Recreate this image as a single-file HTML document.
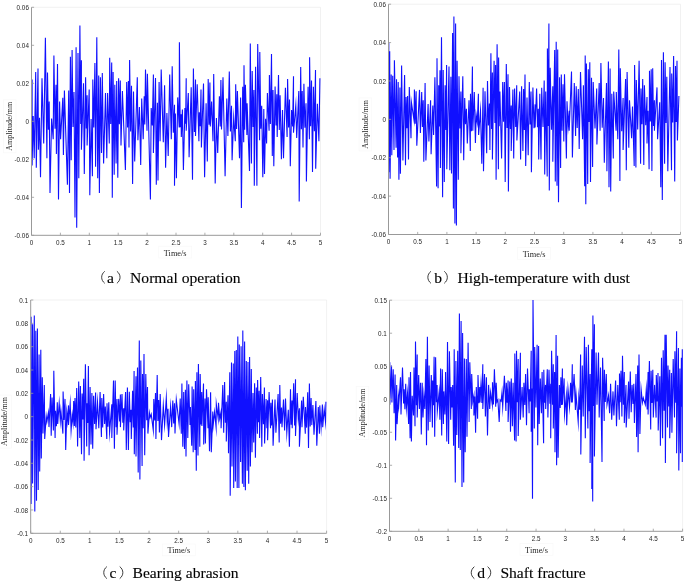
<!DOCTYPE html>
<html><head><meta charset="utf-8"><style>
html,body{margin:0;padding:0;background:#fff;}
body{width:685px;height:582px;overflow:hidden;}
svg{display:block;will-change:transform;filter:blur(0.3px);}
.tk{font-family:"Liberation Sans",sans-serif;font-size:6.6px;fill:#262626;}
.lb{font-family:"Liberation Serif",serif;font-size:8.3px;fill:#262626;}
.yl{font-size:8.0px;}
.cap{font-family:"Liberation Serif",serif;font-size:15.6px;fill:#000;stroke:#000;stroke-width:0.12px;}
</style></head><body>
<svg width="685" height="582" viewBox="0 0 685 582">
<path d="M31.5,7.3H320.5V235.3" fill="none" stroke="#eeeeee" stroke-width="0.8"/>
<polyline points="32.1,79.4 32.1,165.6 33.2,116.1 34.2,158.2 35.7,72.0 36.3,167.7 38.0,68.4 38.4,149.8 39.5,117.8 40.5,177.3 42.0,78.3 43.7,143.4 45.4,37.7 46.9,158.2 47.5,72.4 48.4,129.8 49.2,101.6 50.0,193.1 51.6,118.6 53.2,139.2 53.9,55.5 55.0,128.7 56.0,84.7 56.4,154.0 57.5,63.9 58.5,199.5 59.6,101.6 60.6,139.2 62.8,97.8 63.4,155.0 64.4,90.6 67.4,184.7 68.7,90.6 69.5,193.1 70.4,56.7 71.2,160.3 72.1,50.0 73.0,127.0 74.0,92.0 75.0,217.5 76.1,47.2 76.7,227.7 78.0,52.9 78.8,178.3 79.9,25.4 80.7,123.9 81.4,60.3 81.4,149.8 83.5,83.2 84.3,174.1 85.6,77.3 86.3,128.4 87.1,95.3 87.1,145.5 89.2,89.5 89.8,195.3 91.1,118.9 92.4,176.2 92.8,79.4 93.8,127.6 94.9,63.1 95.6,166.7 96.8,37.3 97.7,178.3 98.7,75.6 99.4,193.1 100.4,77.3 101.5,152.9 102.3,73.0 103.6,163.5 105.5,93.1 106.8,158.2 107.6,93.1 109.3,143.4 109.7,57.8 110.7,124.0 111.7,62.4 112.3,197.8 113.1,72.0 114.2,174.7 114.8,84.7 116.1,163.5 116.7,80.9 117.8,177.7 118.6,78.3 119.4,124.2 120.3,80.4 121.0,145.5 122.4,91.0 125.4,169.9 126.7,82.1 127.6,127.5 128.4,81.1 129.0,147.6 129.6,59.9 130.6,131.6 131.5,85.7 132.6,184.0 133.5,91.4 134.7,161.4 137.3,77.3 137.9,140.2 139.4,106.9 140.7,165.0 141.7,98.6 143.2,139.2 144.2,96.3 144.8,124.5 145.5,69.4 147.0,130.7 147.4,73.7 150.4,199.5 151.2,108.0 152.3,125.5 153.4,74.5 153.4,152.9 155.5,77.9 156.3,184.7 157.4,102.7 158.0,180.4 159.1,82.1 160.1,141.3 161.2,69.4 163.3,142.3 164.6,85.3 165.6,167.7 166.9,113.0 168.2,156.1 169.7,74.5 171.3,139.2 172.2,66.3 173.3,132.8 174.5,104.8 174.5,185.7 175.4,113.5 176.4,178.3 177.7,97.4 179.2,127.5 179.4,42.3 180.2,127.3 181.1,114.3 181.3,137.0 182.4,109.5 183.4,169.9 184.9,108.0 185.6,123.8 186.2,78.3 186.2,130.7 188.3,93.1 189.1,157.2 191.2,87.2 192.5,179.8 193.4,68.4 194.4,131.9 195.5,79.4 195.5,136.0 197.2,84.2 198.9,141.3 199.3,112.2 200.2,126.2 201.0,89.5 201.4,147.6 203.5,83.6 204.6,177.3 206.1,103.3 207.3,161.4 208.2,79.0 209.1,124.7 209.9,82.6 210.3,126.5 211.6,101.6 213.0,141.3 213.7,74.1 215.2,183.6 216.4,118.1 217.7,152.9 219.4,96.3 220.2,126.4 220.9,80.0 221.5,129.6 223.0,77.3 225.1,176.2 226.8,98.4 227.9,136.0 229.3,71.5 230.4,131.5 231.5,105.8 232.1,160.3 233.7,117.5 235.3,141.3 235.7,84.2 236.6,129.1 237.4,91.0 239.5,158.2 240.6,97.4 241.4,208.0 242.7,86.8 243.7,142.3 244.0,65.2 244.7,129.7 245.4,84.7 246.9,134.9 247.1,103.3 249.5,170.9 250.3,43.4 251.4,163.5 252.2,70.9 253.1,127.0 253.9,90.0 254.3,185.7 255.6,66.7 256.9,185.7 257.7,44.0 259.6,140.2 259.8,51.9 260.8,128.8 261.7,105.8 262.8,177.3 263.8,109.0 264.5,174.1 265.6,118.7 266.6,143.4 267.4,93.1 269.1,130.7 269.4,75.1 270.4,123.9 271.5,54.0 272.3,156.1 273.0,90.0 273.8,166.3 275.1,86.4 276.0,125.4 276.8,94.2 277.2,137.0 278.5,75.1 279.3,130.1 280.1,95.3 281.4,159.3 282.5,110.1 283.5,158.2 285.4,87.8 287.1,137.0 287.6,79.0 288.6,127.6 289.5,99.5 290.3,166.3 291.6,110.1 292.6,126.4 293.5,76.2 293.5,132.8 295.8,105.4 296.7,138.1 298.8,91.0 299.2,201.6 300.7,66.9 301.4,129.2 302.2,91.0 303.0,147.6 303.9,83.8 304.9,127.8 306.0,103.3 306.4,181.5 308.1,86.8 309.4,139.2 309.6,57.2 310.6,126.3 311.5,80.4 312.5,172.0 313.4,86.8 314.4,131.2 315.5,69.9 315.7,168.8 317.4,103.7 318.9,141.3 319.9,78.3" fill="none" stroke="#1010ff" stroke-width="1.1" stroke-linejoin="miter" stroke-miterlimit="20"/>
<path d="M31.5,7.3V235.3H320.5" fill="none" stroke="#999999" stroke-width="1"/>
<path d="M31.5,7.30h2.6" stroke="#999999" stroke-width="0.8"/>
<text transform="translate(28.9,9.90) scale(0.96,1)" class="tk" text-anchor="end">0.06</text>
<path d="M31.5,45.30h2.6" stroke="#999999" stroke-width="0.8"/>
<text transform="translate(28.9,47.90) scale(0.96,1)" class="tk" text-anchor="end">0.04</text>
<path d="M31.5,83.30h2.6" stroke="#999999" stroke-width="0.8"/>
<text transform="translate(28.9,85.90) scale(0.96,1)" class="tk" text-anchor="end">0.02</text>
<path d="M31.5,121.30h2.6" stroke="#999999" stroke-width="0.8"/>
<text transform="translate(28.9,123.90) scale(0.96,1)" class="tk" text-anchor="end">0</text>
<path d="M31.5,159.30h2.6" stroke="#999999" stroke-width="0.8"/>
<text transform="translate(28.9,161.90) scale(0.96,1)" class="tk" text-anchor="end">-0.02</text>
<path d="M31.5,197.30h2.6" stroke="#999999" stroke-width="0.8"/>
<text transform="translate(28.9,199.90) scale(0.96,1)" class="tk" text-anchor="end">-0.04</text>
<path d="M31.5,235.30h2.6" stroke="#999999" stroke-width="0.8"/>
<text transform="translate(28.9,237.90) scale(0.96,1)" class="tk" text-anchor="end">-0.06</text>
<path d="M31.50,235.3v-2.6" stroke="#999999" stroke-width="0.8"/>
<text transform="translate(31.50,244.90) scale(0.96,1)" class="tk" text-anchor="middle">0</text>
<path d="M60.40,235.3v-2.6" stroke="#999999" stroke-width="0.8"/>
<text transform="translate(60.40,244.90) scale(0.96,1)" class="tk" text-anchor="middle">0.5</text>
<path d="M89.30,235.3v-2.6" stroke="#999999" stroke-width="0.8"/>
<text transform="translate(89.30,244.90) scale(0.96,1)" class="tk" text-anchor="middle">1</text>
<path d="M118.20,235.3v-2.6" stroke="#999999" stroke-width="0.8"/>
<text transform="translate(118.20,244.90) scale(0.96,1)" class="tk" text-anchor="middle">1.5</text>
<path d="M147.10,235.3v-2.6" stroke="#999999" stroke-width="0.8"/>
<text transform="translate(147.10,244.90) scale(0.96,1)" class="tk" text-anchor="middle">2</text>
<path d="M176.00,235.3v-2.6" stroke="#999999" stroke-width="0.8"/>
<text transform="translate(176.00,244.90) scale(0.96,1)" class="tk" text-anchor="middle">2.5</text>
<path d="M204.90,235.3v-2.6" stroke="#999999" stroke-width="0.8"/>
<text transform="translate(204.90,244.90) scale(0.96,1)" class="tk" text-anchor="middle">3</text>
<path d="M233.80,235.3v-2.6" stroke="#999999" stroke-width="0.8"/>
<text transform="translate(233.80,244.90) scale(0.96,1)" class="tk" text-anchor="middle">3.5</text>
<path d="M262.70,235.3v-2.6" stroke="#999999" stroke-width="0.8"/>
<text transform="translate(262.70,244.90) scale(0.96,1)" class="tk" text-anchor="middle">4</text>
<path d="M291.60,235.3v-2.6" stroke="#999999" stroke-width="0.8"/>
<text transform="translate(291.60,244.90) scale(0.96,1)" class="tk" text-anchor="middle">4.5</text>
<path d="M320.50,235.3v-2.6" stroke="#999999" stroke-width="0.8"/>
<text transform="translate(320.50,244.90) scale(0.96,1)" class="tk" text-anchor="middle">5</text>
<rect x="3.4" y="99.8" width="12.6" height="53" fill="none" stroke="#f9f9f9" stroke-width="0.8"/>
<text class="lb yl" x="0" y="0" text-anchor="middle" transform="translate(11.9,126.3) rotate(-90)">Amplitude/mm</text>
<rect x="158.7" y="246.2" width="33" height="11.8" fill="none" stroke="#f9f9f9" stroke-width="0.8"/>
<text class="lb" x="175.2" y="255.5" text-anchor="middle">Time/s</text>
<path d="M388.5,4.2H680.5V234.5" fill="none" stroke="#eeeeee" stroke-width="0.8"/>
<polyline points="388.8,42.6 388.8,172.3 389.7,51.2 390.1,178.7 391.2,74.6 391.8,155.3 392.7,75.7 394.0,150.0 394.4,60.3 396.1,147.8 396.5,79.3 397.6,157.4 398.2,82.1 398.9,179.8 399.9,87.4 400.4,173.8 401.6,65.4 402.9,160.6 404.6,75.0 405.5,165.3 406.1,97.0 406.9,128.3 407.6,95.9 408.5,159.6 409.3,87.0 411.0,138.2 411.4,102.3 414.0,120.1 414.4,89.5 415.2,123.8 416.1,91.2 416.8,145.7 419.5,89.9 420.4,132.9 421.7,92.1 422.4,127.1 423.2,100.2 423.8,161.7 425.1,83.1 425.9,160.6 428.1,104.0 428.9,141.4 430.6,100.2 431.1,154.2 432.8,105.5 433.6,135.0 434.9,77.2 436.6,186.6 437.0,58.2 438.1,188.3 438.7,85.3 439.4,126.6 440.0,70.3 440.4,168.1 441.5,37.3 442.6,197.3 443.2,69.9 444.3,181.9 445.1,85.3 445.9,130.1 446.6,65.0 446.8,169.2 449.0,66.5 449.8,170.2 450.9,76.7 451.5,173.4 452.6,33.0 453.4,208.6 453.9,16.6 454.9,223.5 455.6,23.4 456.4,225.6 457.1,60.7 458.3,179.8 459.0,76.3 459.9,128.6 460.9,91.6 460.9,153.2 462.8,76.3 463.7,160.2 464.7,98.0 465.5,124.2 466.4,108.7 467.3,143.6 469.0,100.2 470.3,151.0 470.5,93.8 471.4,131.2 472.4,66.5 472.8,130.8 474.3,92.1 475.4,143.1 476.2,115.1 477.3,122.5 478.4,93.8 478.6,135.0 480.5,110.8 481.8,163.8 483.1,87.8 483.5,171.3 485.0,91.2 486.7,153.2 487.5,81.0 488.4,125.5 489.4,103.4 489.9,150.0 490.9,53.3 491.6,128.9 492.4,72.5 492.4,159.6 494.1,60.7 494.9,122.9 495.6,65.0 496.1,179.8 497.1,44.3 498.4,169.2 498.6,57.5 499.2,126.2 499.9,91.6 501.6,158.5 502.7,82.1 503.5,121.7 504.4,82.1 505.2,181.9 506.3,63.9 507.1,128.0 508.0,74.2 508.4,191.5 509.5,87.0 510.4,129.0 511.2,105.5 511.2,151.0 512.9,89.5 513.7,158.5 514.6,88.4 515.7,127.1 516.7,85.3 516.9,140.4 519.7,91.6 520.6,159.6 521.6,86.3 522.9,151.0 523.6,89.1 524.3,130.1 525.0,74.6 525.7,166.0 527.0,97.6 528.2,155.3 529.3,82.1 530.1,124.5 531.0,91.6 531.4,172.3 532.9,87.4 534.0,128.3 535.1,104.4 535.1,127.6 536.6,88.4 537.5,127.3 538.3,108.7 538.7,159.6 539.8,93.8 541.0,159.6 541.7,87.8 543.0,127.1 544.2,80.6 544.7,174.5 545.7,91.6 547.2,176.6 547.4,48.6 548.1,125.9 548.9,23.4 549.3,190.5 550.2,67.8 551.5,129.7 552.8,86.3 552.8,161.7 554.7,50.1 555.3,181.5 556.2,41.8 557.0,185.8 557.7,49.4 558.5,202.2 559.6,77.2 560.6,168.1 561.3,74.6 562.1,130.8 563.0,84.2 563.8,141.4 564.5,74.2 566.4,158.5 567.0,101.2 568.1,126.1 569.2,110.8 569.2,130.8 571.5,71.4 572.4,157.4 574.3,83.1 575.6,136.1 576.2,86.3 577.2,128.0 578.3,89.1 579.2,148.9 580.5,72.0 582.6,139.3 583.4,85.3 584.7,186.2 585.2,55.4 585.8,204.3 586.4,63.5 587.7,184.1 588.3,69.3 589.0,122.0 589.8,62.2 590.5,181.9 591.5,77.8 592.6,167.0 593.2,82.1 595.0,128.4 596.7,88.4 596.9,144.6 599.2,83.1 600.1,130.8 600.9,63.1 602.2,127.8 603.5,98.0 604.3,162.8 606.5,83.1 606.9,171.3 608.4,61.4 609.0,187.3 610.1,68.6 610.7,191.5 611.8,93.8 613.3,158.5 613.7,91.6 616.1,130.8 616.3,92.1 617.8,139.3 618.8,49.4 619.9,180.9 620.3,68.2 621.7,131.3 623.1,98.0 623.1,150.0 625.6,78.9 626.3,170.2 627.1,72.0 628.8,147.8 629.5,100.2 631.6,138.2 632.5,106.6 634.2,166.0 634.6,65.0 635.9,167.4 636.3,79.9 637.7,129.6 639.1,60.7 640.6,163.8 641.0,88.4 641.9,124.2 642.7,78.9 643.8,164.9 644.4,85.3 645.7,125.2 647.0,97.0 647.0,143.6 648.0,110.7 649.1,169.2 649.5,70.8 650.4,121.6 651.2,69.3 651.9,170.9 652.7,68.2 653.5,126.0 654.4,100.2 654.4,130.8 657.0,87.4 657.6,139.3 659.7,102.3 660.8,187.3 661.5,60.1 662.3,200.1 663.4,52.2 664.6,163.8 665.1,62.2 666.0,123.0 666.8,76.7 667.8,171.3 670.0,67.1 671.5,170.2 671.7,73.5 672.7,122.5 673.6,56.1 674.7,181.5 675.5,66.1 676.2,121.9 677.0,60.7 677.4,140.4 678.9,95.9" fill="none" stroke="#1010ff" stroke-width="1.1" stroke-linejoin="miter" stroke-miterlimit="20"/>
<path d="M388.5,4.2V234.5H680.5" fill="none" stroke="#999999" stroke-width="1"/>
<path d="M388.5,4.20h2.6" stroke="#999999" stroke-width="0.8"/>
<text transform="translate(385.9,6.80) scale(0.96,1)" class="tk" text-anchor="end">0.06</text>
<path d="M388.5,42.58h2.6" stroke="#999999" stroke-width="0.8"/>
<text transform="translate(385.9,45.18) scale(0.96,1)" class="tk" text-anchor="end">0.04</text>
<path d="M388.5,80.97h2.6" stroke="#999999" stroke-width="0.8"/>
<text transform="translate(385.9,83.57) scale(0.96,1)" class="tk" text-anchor="end">0.02</text>
<path d="M388.5,119.35h2.6" stroke="#999999" stroke-width="0.8"/>
<text transform="translate(385.9,121.95) scale(0.96,1)" class="tk" text-anchor="end">0</text>
<path d="M388.5,157.73h2.6" stroke="#999999" stroke-width="0.8"/>
<text transform="translate(385.9,160.33) scale(0.96,1)" class="tk" text-anchor="end">-0.02</text>
<path d="M388.5,196.12h2.6" stroke="#999999" stroke-width="0.8"/>
<text transform="translate(385.9,198.72) scale(0.96,1)" class="tk" text-anchor="end">-0.04</text>
<path d="M388.5,234.50h2.6" stroke="#999999" stroke-width="0.8"/>
<text transform="translate(385.9,237.10) scale(0.96,1)" class="tk" text-anchor="end">-0.06</text>
<path d="M388.50,234.5v-2.6" stroke="#999999" stroke-width="0.8"/>
<text transform="translate(388.50,244.10) scale(0.96,1)" class="tk" text-anchor="middle">0</text>
<path d="M417.70,234.5v-2.6" stroke="#999999" stroke-width="0.8"/>
<text transform="translate(417.70,244.10) scale(0.96,1)" class="tk" text-anchor="middle">0.5</text>
<path d="M446.90,234.5v-2.6" stroke="#999999" stroke-width="0.8"/>
<text transform="translate(446.90,244.10) scale(0.96,1)" class="tk" text-anchor="middle">1</text>
<path d="M476.10,234.5v-2.6" stroke="#999999" stroke-width="0.8"/>
<text transform="translate(476.10,244.10) scale(0.96,1)" class="tk" text-anchor="middle">1.5</text>
<path d="M505.30,234.5v-2.6" stroke="#999999" stroke-width="0.8"/>
<text transform="translate(505.30,244.10) scale(0.96,1)" class="tk" text-anchor="middle">2</text>
<path d="M534.50,234.5v-2.6" stroke="#999999" stroke-width="0.8"/>
<text transform="translate(534.50,244.10) scale(0.96,1)" class="tk" text-anchor="middle">2.5</text>
<path d="M563.70,234.5v-2.6" stroke="#999999" stroke-width="0.8"/>
<text transform="translate(563.70,244.10) scale(0.96,1)" class="tk" text-anchor="middle">3</text>
<path d="M592.90,234.5v-2.6" stroke="#999999" stroke-width="0.8"/>
<text transform="translate(592.90,244.10) scale(0.96,1)" class="tk" text-anchor="middle">3.5</text>
<path d="M622.10,234.5v-2.6" stroke="#999999" stroke-width="0.8"/>
<text transform="translate(622.10,244.10) scale(0.96,1)" class="tk" text-anchor="middle">4</text>
<path d="M651.30,234.5v-2.6" stroke="#999999" stroke-width="0.8"/>
<text transform="translate(651.30,244.10) scale(0.96,1)" class="tk" text-anchor="middle">4.5</text>
<path d="M680.50,234.5v-2.6" stroke="#999999" stroke-width="0.8"/>
<text transform="translate(680.50,244.10) scale(0.96,1)" class="tk" text-anchor="middle">5</text>
<rect x="359.1" y="97.9" width="12.6" height="53" fill="none" stroke="#f9f9f9" stroke-width="0.8"/>
<text class="lb yl" x="0" y="0" text-anchor="middle" transform="translate(367.6,124.4) rotate(-90)">Amplitude/mm</text>
<rect x="517.6" y="247.5" width="33" height="11.8" fill="none" stroke="#f9f9f9" stroke-width="0.8"/>
<text class="lb" x="534.1" y="256.8" text-anchor="middle">Time/s</text>
<path d="M30.7,300.0H326.6V533.3" fill="none" stroke="#eeeeee" stroke-width="0.8"/>
<polyline points="31.1,316.7 31.1,504.0 32.6,324.3 32.6,483.4 34.3,315.6 34.8,511.5 35.8,330.8 36.5,500.7 37.4,328.6 38.2,489.9 39.1,354.6 39.7,471.5 40.8,349.8 41.3,458.5 42.3,377.3 43.0,433.6 44.3,384.9 44.7,439.0 46.2,416.2 46.9,421.7 48.4,412.6 49.0,427.1 50.6,394.0 51.2,435.8 52.1,397.4 53.4,430.4 53.8,370.8 55.1,438.0 55.5,410.8 56.4,426.3 57.3,402.2 57.7,423.9 59.2,403.3 60.3,420.7 60.9,410.8 62.9,433.6 63.1,391.4 64.0,419.9 65.0,398.9 65.7,449.9 66.8,411.9 67.7,421.1 68.5,405.4 68.5,425.0 70.2,403.3 71.1,430.4 72.2,415.2 73.0,422.6 73.7,401.1 74.4,426.1 75.0,397.9 75.8,427.4 76.7,388.1 77.6,446.6 78.7,381.6 79.8,438.0 80.4,386.0 81.5,454.2 82.1,393.5 82.9,419.5 83.7,378.8 84.1,460.7 85.4,364.3 86.7,446.6 86.9,403.3 87.7,423.1 88.4,366.0 89.1,455.3 90.1,387.0 91.0,444.5 91.9,393.1 92.7,448.8 93.6,395.7 94.6,424.1 95.6,392.4 96.0,429.3 97.5,402.2 98.8,428.2 100.1,392.0 101.4,436.9 101.8,397.9 102.7,427.5 103.6,394.0 104.6,423.9 105.3,406.5 106.8,439.0 107.0,403.3 107.9,426.8 108.8,402.2 109.6,432.6 111.8,404.3 111.8,438.0 113.5,380.5 114.4,448.8 115.2,380.5 116.1,427.3 117.0,398.9 117.0,434.7 118.7,398.9 119.6,421.4 120.4,394.6 120.4,427.1 122.0,394.0 122.8,422.8 123.7,408.2 123.7,430.4 125.6,392.0 126.3,449.9 127.4,387.5 128.4,449.9 129.3,391.8 130.2,422.2 131.0,409.7 131.3,439.0 132.6,390.7 133.3,427.5 134.1,371.0 134.3,454.2 136.0,376.2 136.0,456.4 137.5,367.6 138.2,472.6 139.3,340.5 139.9,479.5 140.8,360.4 142.1,466.1 142.5,374.1 143.2,428.2 144.0,354.1 144.7,455.3 145.8,374.1 146.7,420.2 147.5,387.0 147.9,433.6 149.4,413.0 150.1,417.4 151.2,414.1 153.3,430.4 153.8,398.9 154.7,420.4 155.5,393.1 155.9,439.0 157.2,375.1 157.9,421.0 158.7,400.0 159.4,432.6 160.2,394.0 161.5,440.1 163.3,405.4 164.6,425.0 166.3,397.9 167.2,421.0 168.0,408.7 168.5,436.9 170.6,406.5 171.7,427.1 172.8,400.4 173.7,423.5 174.5,403.3 175.0,433.6 176.3,399.6 179.1,424.0 180.2,398.4 181.3,433.8 181.9,383.6 182.8,446.8 183.7,391.9 184.5,449.0 185.4,389.7 186.0,456.6 186.9,380.6 187.8,438.1 188.7,384.3 190.0,425.1 190.4,407.1 191.7,445.7 192.1,386.5 193.2,452.2 193.7,389.3 195.0,450.1 195.4,381.0 196.3,470.7 196.9,372.3 198.0,455.5 198.4,364.0 199.8,446.8 200.2,374.1 200.9,424.5 201.7,391.9 201.9,426.1 203.5,383.6 203.7,444.6 205.0,398.4 205.4,443.5 206.5,389.3 208.0,428.3 208.2,397.3 209.5,451.2 210.6,392.3 211.3,452.2 212.8,411.5 213.2,425.1 214.6,412.0 216.1,427.2 216.3,403.9 218.2,418.5 218.5,402.8 219.7,418.7 220.9,412.6 221.1,428.3 222.8,384.9 223.7,432.7 224.6,382.1 225.4,422.8 226.3,401.7 226.3,441.4 228.0,395.2 228.5,453.3 229.8,372.3 230.2,495.8 231.5,362.5 232.0,466.4 233.3,363.6 233.7,488.1 234.8,351.0 235.4,481.6 236.3,350.1 237.2,488.1 237.8,336.4 238.9,488.1 239.3,344.5 240.6,462.0 241.1,346.2 242.4,483.8 242.8,330.5 243.9,487.0 244.6,341.4 245.4,490.3 246.3,361.0 247.2,470.7 248.0,361.9 248.7,483.8 249.6,357.1 250.4,466.4 251.3,369.0 252.0,452.2 253.0,393.0 253.7,442.5 254.6,383.2 255.4,457.7 256.3,387.5 257.4,433.8 257.6,379.9 258.4,422.3 259.1,390.8 259.6,438.1 260.7,377.1 261.8,446.8 262.4,394.1 263.4,424.3 264.4,387.5 264.6,443.5 266.1,399.1 266.9,428.2 267.6,400.2 267.6,440.3 269.1,391.9 270.5,428.3 270.9,402.8 271.6,425.6 272.4,399.5 273.1,445.7 275.0,399.5 275.9,432.7 278.1,394.1 279.2,442.5 279.8,384.9 280.6,423.8 281.5,407.6 282.0,427.2 283.5,399.5 284.6,430.5 285.5,398.4 286.8,432.7 288.3,409.7 289.4,446.8 290.5,389.3 291.2,424.8 292.0,400.6 292.2,428.3 293.7,383.2 294.6,425.4 295.5,379.3 295.5,435.9 297.2,393.0 298.3,419.2 299.4,408.2 299.4,446.8 301.6,400.6 302.0,427.2 303.3,396.7 305.3,433.8 305.5,407.1 306.6,427.6 307.7,392.3 308.5,447.9 309.4,383.6 310.2,426.4 311.1,398.0 311.8,425.1 312.9,405.0 314.0,434.8 315.9,401.0 316.8,445.7 318.3,407.1 319.4,433.8 319.8,405.4 321.1,427.4 322.4,404.5 322.7,427.2 324.2,409.3 325.5,421.8 325.9,401.7" fill="none" stroke="#1010ff" stroke-width="1.1" stroke-linejoin="miter" stroke-miterlimit="20"/>
<path d="M30.7,300.0V533.3H326.6" fill="none" stroke="#999999" stroke-width="1"/>
<path d="M30.7,300.00h2.6" stroke="#999999" stroke-width="0.8"/>
<text transform="translate(28.1,302.60) scale(0.96,1)" class="tk" text-anchor="end">0.1</text>
<path d="M30.7,323.33h2.6" stroke="#999999" stroke-width="0.8"/>
<text transform="translate(28.1,325.93) scale(0.96,1)" class="tk" text-anchor="end">0.08</text>
<path d="M30.7,346.66h2.6" stroke="#999999" stroke-width="0.8"/>
<text transform="translate(28.1,349.26) scale(0.96,1)" class="tk" text-anchor="end">0.06</text>
<path d="M30.7,369.99h2.6" stroke="#999999" stroke-width="0.8"/>
<text transform="translate(28.1,372.59) scale(0.96,1)" class="tk" text-anchor="end">0.04</text>
<path d="M30.7,393.32h2.6" stroke="#999999" stroke-width="0.8"/>
<text transform="translate(28.1,395.92) scale(0.96,1)" class="tk" text-anchor="end">0.02</text>
<path d="M30.7,416.65h2.6" stroke="#999999" stroke-width="0.8"/>
<text transform="translate(28.1,419.25) scale(0.96,1)" class="tk" text-anchor="end">0</text>
<path d="M30.7,439.98h2.6" stroke="#999999" stroke-width="0.8"/>
<text transform="translate(28.1,442.58) scale(0.96,1)" class="tk" text-anchor="end">-0.02</text>
<path d="M30.7,463.31h2.6" stroke="#999999" stroke-width="0.8"/>
<text transform="translate(28.1,465.91) scale(0.96,1)" class="tk" text-anchor="end">-0.04</text>
<path d="M30.7,486.64h2.6" stroke="#999999" stroke-width="0.8"/>
<text transform="translate(28.1,489.24) scale(0.96,1)" class="tk" text-anchor="end">-0.06</text>
<path d="M30.7,509.97h2.6" stroke="#999999" stroke-width="0.8"/>
<text transform="translate(28.1,512.57) scale(0.96,1)" class="tk" text-anchor="end">-0.08</text>
<path d="M30.7,533.30h2.6" stroke="#999999" stroke-width="0.8"/>
<text transform="translate(28.1,535.90) scale(0.96,1)" class="tk" text-anchor="end">-0.1</text>
<path d="M30.70,533.3v-2.6" stroke="#999999" stroke-width="0.8"/>
<text transform="translate(30.70,542.90) scale(0.96,1)" class="tk" text-anchor="middle">0</text>
<path d="M60.29,533.3v-2.6" stroke="#999999" stroke-width="0.8"/>
<text transform="translate(60.29,542.90) scale(0.96,1)" class="tk" text-anchor="middle">0.5</text>
<path d="M89.88,533.3v-2.6" stroke="#999999" stroke-width="0.8"/>
<text transform="translate(89.88,542.90) scale(0.96,1)" class="tk" text-anchor="middle">1</text>
<path d="M119.47,533.3v-2.6" stroke="#999999" stroke-width="0.8"/>
<text transform="translate(119.47,542.90) scale(0.96,1)" class="tk" text-anchor="middle">1.5</text>
<path d="M149.06,533.3v-2.6" stroke="#999999" stroke-width="0.8"/>
<text transform="translate(149.06,542.90) scale(0.96,1)" class="tk" text-anchor="middle">2</text>
<path d="M178.65,533.3v-2.6" stroke="#999999" stroke-width="0.8"/>
<text transform="translate(178.65,542.90) scale(0.96,1)" class="tk" text-anchor="middle">2.5</text>
<path d="M208.24,533.3v-2.6" stroke="#999999" stroke-width="0.8"/>
<text transform="translate(208.24,542.90) scale(0.96,1)" class="tk" text-anchor="middle">3</text>
<path d="M237.83,533.3v-2.6" stroke="#999999" stroke-width="0.8"/>
<text transform="translate(237.83,542.90) scale(0.96,1)" class="tk" text-anchor="middle">3.5</text>
<path d="M267.42,533.3v-2.6" stroke="#999999" stroke-width="0.8"/>
<text transform="translate(267.42,542.90) scale(0.96,1)" class="tk" text-anchor="middle">4</text>
<path d="M297.01,533.3v-2.6" stroke="#999999" stroke-width="0.8"/>
<text transform="translate(297.01,542.90) scale(0.96,1)" class="tk" text-anchor="middle">4.5</text>
<path d="M326.60,533.3v-2.6" stroke="#999999" stroke-width="0.8"/>
<text transform="translate(326.60,542.90) scale(0.96,1)" class="tk" text-anchor="middle">5</text>
<rect x="-1.1" y="395.1" width="12.6" height="53" fill="none" stroke="#f9f9f9" stroke-width="0.8"/>
<text class="lb yl" x="0" y="0" text-anchor="middle" transform="translate(7.4,421.6) rotate(-90)">Amplitude/mm</text>
<rect x="162.3" y="544.0" width="33" height="11.8" fill="none" stroke="#f9f9f9" stroke-width="0.8"/>
<text class="lb" x="178.8" y="553.3" text-anchor="middle">Time/s</text>
<path d="M389.5,300.2H682.6V531.3" fill="none" stroke="#eeeeee" stroke-width="0.8"/>
<polyline points="389.8,362.2 389.8,404.7 391.5,365.4 391.9,402.5 393.2,369.3 394.1,413.3 395.1,374.5 395.6,440.4 396.7,384.9 397.1,424.1 398.4,397.9 398.8,404.7 400.5,377.3 401.0,414.4 402.5,367.6 403.6,403.6 404.2,389.2 404.9,409.2 405.7,383.8 406.4,407.9 407.5,393.5 408.6,424.1 409.0,377.3 410.1,438.2 410.5,371.9 411.4,441.4 412.2,395.7 413.5,415.5 414.0,367.6 415.0,426.3 415.5,341.6 416.4,405.2 417.2,354.6 417.2,417.6 418.7,375.1 419.4,409.0 420.5,382.7 421.3,434.5 422.2,382.7 423.0,417.6 423.9,395.7 424.8,409.0 425.9,358.9 426.5,445.3 427.4,336.8 428.2,430.6 429.1,365.4 430.0,422.0 431.3,375.1 432.4,427.4 432.6,380.5 433.4,405.2 434.1,356.7 434.7,436.7 435.6,357.2 436.4,402.3 437.1,384.9 437.3,411.1 439.1,392.4 439.9,419.8 440.6,368.6 441.7,435.6 442.3,369.3 443.4,424.1 443.8,391.4 444.9,414.4 445.6,371.9 446.8,441.4 447.5,342.0 448.6,444.0 449.4,351.3 450.7,419.8 451.2,387.0 451.9,407.6 452.7,384.9 453.6,445.8 454.2,349.2 455.3,482.5 455.9,361.1 456.8,434.9 457.7,350.7 458.7,447.9 459.4,313.5 460.3,450.1 461.1,321.0 462.0,486.9 462.6,332.9 463.7,482.5 464.4,358.5 465.2,452.3 466.3,358.9 467.0,436.7 468.1,342.7 469.1,422.0 469.8,362.2 471.3,409.0 471.7,374.0 472.8,401.9 473.9,395.7 473.9,415.5 474.8,396.6 475.6,432.8 476.3,387.0 477.6,418.7 478.0,375.1 478.9,403.3 479.7,387.0 480.0,402.5 481.0,383.8 481.9,402.9 482.8,364.3 482.8,409.0 484.5,374.0 485.4,416.6 486.4,377.3 487.5,435.4 488.6,384.9 489.7,409.0 490.6,392.4 492.3,404.7 492.5,382.3 493.4,404.6 494.4,369.3 495.7,406.8 496.2,382.7 497.0,401.8 497.9,400.0 499.2,422.0 500.1,400.0 501.1,401.2 502.0,392.4 502.7,406.8 504.4,375.8 505.9,411.1 506.3,382.7 507.2,402.8 508.1,380.5 508.1,422.0 509.8,381.6 510.5,431.7 511.3,378.4 512.4,426.3 513.1,382.7 514.6,440.4 514.8,353.5 516.1,441.4 516.5,350.7 517.4,402.3 518.2,358.9 518.2,436.0 520.4,352.8 520.4,419.8 522.1,387.0 523.2,417.6 523.9,382.7 524.8,404.9 525.6,374.0 526.5,425.2 527.5,368.6 529.1,413.3 529.3,389.2 530.2,401.5 531.2,350.7 531.2,431.7 531.9,388.5 532.5,498.8 533.0,300.1 534.3,428.5 534.7,347.0 535.9,407.4 537.1,344.8 537.7,445.3 538.6,345.9 539.2,424.1 540.3,378.4 541.4,413.3 542.1,371.9 543.6,443.2 543.8,369.7 544.6,402.7 545.5,384.9 545.7,409.0 547.3,369.3 547.9,417.6 549.0,369.7 549.9,403.8 550.7,383.8 550.7,438.2 551.6,350.7 552.5,404.7 553.3,364.3 553.3,428.5 554.6,371.9 555.0,452.3 556.1,335.1 556.6,465.2 557.6,355.7 558.1,457.7 559.4,384.9 560.2,407.9 560.9,377.3 561.6,404.9 562.4,368.6 562.4,404.7 564.1,378.4 564.6,414.4 566.3,395.7 566.7,425.2 568.0,389.2 569.5,406.8 570.6,382.7 571.5,402.5 572.3,364.3 572.3,402.5 574.1,374.0 575.4,410.1 576.0,393.5 578.2,422.0 578.8,397.9 579.7,409.7 580.6,354.6 580.8,454.4 582.3,365.4 583.2,416.6 584.5,336.8 585.3,438.2 586.2,347.0 587.9,428.5 588.4,344.8 589.2,411.2 590.1,374.0 590.1,463.1 591.8,349.2 591.8,489.0 592.2,392.6 592.7,501.6 592.9,315.6 593.6,406.1 594.4,324.3 594.4,456.6 596.1,352.4 597.0,404.7 598.5,352.4 599.2,417.6 600.5,367.6 602.0,462.0 602.6,357.8 604.2,420.9 604.4,369.7 605.3,402.1 606.3,374.0 607.0,404.7 608.5,395.7 609.6,413.3 610.6,383.8 611.7,419.8 613.0,391.4 613.9,415.5 615.6,380.5 616.5,426.3 617.8,384.9 619.3,419.8 619.5,373.6 620.2,402.3 621.0,370.8 621.9,416.6 622.5,355.7 623.4,404.7 624.3,371.9 624.3,423.0 626.0,384.9 626.2,427.4 628.6,381.6 629.0,418.7 630.3,371.5 631.2,412.2 632.1,384.9 633.0,403.9 633.8,383.8 634.4,423.0 636.0,374.0 636.6,437.1 637.7,365.4 638.1,452.3 639.0,354.6 639.9,433.9 641.1,389.2 642.4,402.5 643.3,397.9 645.3,404.7 646.3,389.2 647.2,409.5 648.1,371.9 648.1,414.4 649.4,361.1 650.7,429.5 651.1,370.8 652.0,402.9 652.8,369.7 653.3,417.6 654.6,384.9 656.1,417.6 656.3,375.1 657.1,401.5 658.0,373.0 658.2,430.6 659.8,376.2 660.4,445.8 661.5,357.8 662.6,438.2 663.2,350.3 664.1,410.8 665.0,334.7 665.4,463.1 666.2,334.7 667.5,427.4 668.0,365.4 668.9,406.5 669.7,369.7 669.7,438.2 671.4,373.0 671.9,432.8 673.2,358.9 674.5,417.6 674.9,351.3 675.8,402.7 676.6,331.2 676.6,453.3 678.4,348.1 678.8,470.6 679.9,368.6 680.5,453.3 681.4,357.8 682.0,406.7 682.3,349.2 682.3,462.0" fill="none" stroke="#1010ff" stroke-width="1.1" stroke-linejoin="miter" stroke-miterlimit="20"/>
<path d="M389.5,300.2V531.3H682.6" fill="none" stroke="#999999" stroke-width="1"/>
<path d="M389.5,300.20h2.6" stroke="#999999" stroke-width="0.8"/>
<text transform="translate(386.9,302.80) scale(0.96,1)" class="tk" text-anchor="end">0.15</text>
<path d="M389.5,333.21h2.6" stroke="#999999" stroke-width="0.8"/>
<text transform="translate(386.9,335.81) scale(0.96,1)" class="tk" text-anchor="end">0.1</text>
<path d="M389.5,366.23h2.6" stroke="#999999" stroke-width="0.8"/>
<text transform="translate(386.9,368.83) scale(0.96,1)" class="tk" text-anchor="end">0.05</text>
<path d="M389.5,399.24h2.6" stroke="#999999" stroke-width="0.8"/>
<text transform="translate(386.9,401.84) scale(0.96,1)" class="tk" text-anchor="end">0</text>
<path d="M389.5,432.26h2.6" stroke="#999999" stroke-width="0.8"/>
<text transform="translate(386.9,434.86) scale(0.96,1)" class="tk" text-anchor="end">-0.05</text>
<path d="M389.5,465.27h2.6" stroke="#999999" stroke-width="0.8"/>
<text transform="translate(386.9,467.87) scale(0.96,1)" class="tk" text-anchor="end">-0.1</text>
<path d="M389.5,498.29h2.6" stroke="#999999" stroke-width="0.8"/>
<text transform="translate(386.9,500.89) scale(0.96,1)" class="tk" text-anchor="end">-0.15</text>
<path d="M389.5,531.30h2.6" stroke="#999999" stroke-width="0.8"/>
<text transform="translate(386.9,533.90) scale(0.96,1)" class="tk" text-anchor="end">-0.2</text>
<path d="M389.50,531.3v-2.6" stroke="#999999" stroke-width="0.8"/>
<text transform="translate(389.50,540.90) scale(0.96,1)" class="tk" text-anchor="middle">0</text>
<path d="M418.81,531.3v-2.6" stroke="#999999" stroke-width="0.8"/>
<text transform="translate(418.81,540.90) scale(0.96,1)" class="tk" text-anchor="middle">0.5</text>
<path d="M448.12,531.3v-2.6" stroke="#999999" stroke-width="0.8"/>
<text transform="translate(448.12,540.90) scale(0.96,1)" class="tk" text-anchor="middle">1</text>
<path d="M477.43,531.3v-2.6" stroke="#999999" stroke-width="0.8"/>
<text transform="translate(477.43,540.90) scale(0.96,1)" class="tk" text-anchor="middle">1.5</text>
<path d="M506.74,531.3v-2.6" stroke="#999999" stroke-width="0.8"/>
<text transform="translate(506.74,540.90) scale(0.96,1)" class="tk" text-anchor="middle">2</text>
<path d="M536.05,531.3v-2.6" stroke="#999999" stroke-width="0.8"/>
<text transform="translate(536.05,540.90) scale(0.96,1)" class="tk" text-anchor="middle">2.5</text>
<path d="M565.36,531.3v-2.6" stroke="#999999" stroke-width="0.8"/>
<text transform="translate(565.36,540.90) scale(0.96,1)" class="tk" text-anchor="middle">3</text>
<path d="M594.67,531.3v-2.6" stroke="#999999" stroke-width="0.8"/>
<text transform="translate(594.67,540.90) scale(0.96,1)" class="tk" text-anchor="middle">3.5</text>
<path d="M623.98,531.3v-2.6" stroke="#999999" stroke-width="0.8"/>
<text transform="translate(623.98,540.90) scale(0.96,1)" class="tk" text-anchor="middle">4</text>
<path d="M653.29,531.3v-2.6" stroke="#999999" stroke-width="0.8"/>
<text transform="translate(653.29,540.90) scale(0.96,1)" class="tk" text-anchor="middle">4.5</text>
<path d="M682.60,531.3v-2.6" stroke="#999999" stroke-width="0.8"/>
<text transform="translate(682.60,540.90) scale(0.96,1)" class="tk" text-anchor="middle">5</text>
<rect x="356.2" y="386.4" width="12.6" height="53" fill="none" stroke="#f9f9f9" stroke-width="0.8"/>
<text class="lb yl" x="0" y="0" text-anchor="middle" transform="translate(364.7,412.9) rotate(-90)">Amplitude/mm</text>
<rect x="520.0" y="543.5" width="33" height="11.8" fill="none" stroke="#f9f9f9" stroke-width="0.8"/>
<text class="lb" x="536.5" y="552.8" text-anchor="middle">Time/s</text>
<path d="M104.78,271.30 C100.62,274.50 100.62,280.10 104.78,283.30" fill="none" stroke="#1a1a1a" stroke-width="0.85"/>
<text class="cap" x="106.9" y="283.0">a</text>
<path d="M116.92,271.30 C121.08,274.50 121.08,280.10 116.92,283.30" fill="none" stroke="#1a1a1a" stroke-width="0.85"/>
<text class="cap" x="130.1" y="283.0">Normal operation</text>
<path d="M430.97,271.30 C426.82,274.50 426.82,280.10 430.97,283.30" fill="none" stroke="#1a1a1a" stroke-width="0.85"/>
<text class="cap" x="434.3" y="283.0">b</text>
<path d="M444.23,271.30 C448.38,274.50 448.38,280.10 444.23,283.30" fill="none" stroke="#1a1a1a" stroke-width="0.85"/>
<text class="cap" x="457.5" y="283.0">High-temperature with dust</text>
<path d="M106.88,566.60 C102.73,569.80 102.73,575.40 106.88,578.60" fill="none" stroke="#1a1a1a" stroke-width="0.85"/>
<text class="cap" x="109.5" y="578.3">c</text>
<path d="M119.72,566.60 C123.88,569.80 123.88,575.40 119.72,578.60" fill="none" stroke="#1a1a1a" stroke-width="0.85"/>
<text class="cap" x="132.5" y="578.3">Bearing abrasion</text>
<path d="M474.37,566.70 C470.22,569.90 470.22,575.50 474.37,578.70" fill="none" stroke="#1a1a1a" stroke-width="0.85"/>
<text class="cap" x="477.2" y="578.4">d</text>
<path d="M487.62,566.70 C491.77,569.90 491.77,575.50 487.62,578.70" fill="none" stroke="#1a1a1a" stroke-width="0.85"/>
<text class="cap" x="500.4" y="578.4">Shaft fracture</text>
</svg>
</body></html>
